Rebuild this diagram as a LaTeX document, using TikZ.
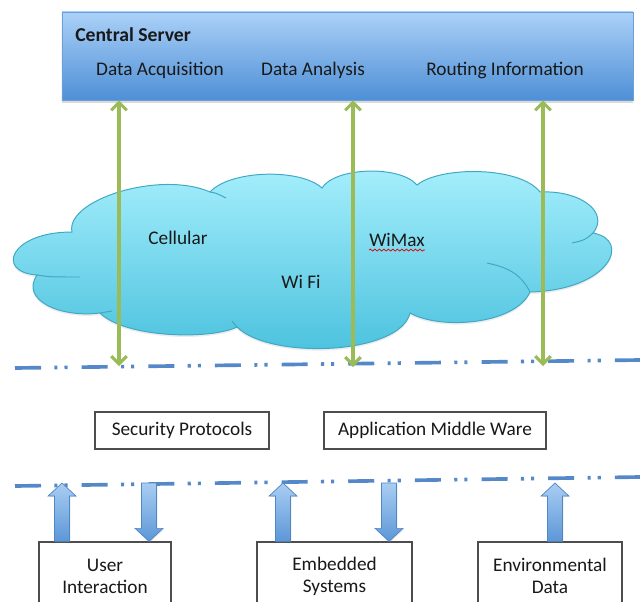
\documentclass[tikz,border=0pt]{standalone}
\usepackage{fontspec}
\setmainfont{Carlito}
\usepackage{xcolor}
\usetikzlibrary{arrows.meta,calc,shadows,decorations.pathmorphing}

\definecolor{srvtop}{HTML}{ABD1F8}
\definecolor{srvbot}{HTML}{4E8FD6}
\definecolor{srvline}{HTML}{6B9FD6}
\definecolor{cloudtop}{HTML}{A6EFFC}
\definecolor{cloudbot}{HTML}{48C0DD}
\definecolor{cloudline}{HTML}{3FA8C4}
\definecolor{linkgreen}{HTML}{9BBB59}
\definecolor{layerblue}{HTML}{5588C8}
\definecolor{fattop}{HTML}{A9CDF2}
\definecolor{fatbot}{HTML}{5C97D8}
\definecolor{fatline}{HTML}{4F86C6}
\definecolor{boxline}{HTML}{4D4D4D}

\begin{document}
\begin{tikzpicture}[x=0.025cm, y=-0.025cm,
  font=\fontsize{13.7}{15.6}\selectfont,
  lbl/.style={inner sep=0pt, text=black!90},
  box/.style={draw=boxline, line width=0.9pt, fill=white, inner sep=0pt, minimum height=0.925cm, text=black!90},
  unit/.style={draw=boxline, line width=0.9pt, fill=white, inner sep=0pt, minimum height=1.7cm, align=center, text=black!90},
  layer/.style={draw=layerblue, line width=2.6pt, dash pattern=on 18.5pt off 9.5pt on 2.2pt off 5pt on 2.2pt off 10pt},
  link/.style={draw=linkgreen, line width=2.2pt, {Straight Barb[length=5.5pt,width=11pt]}-{Straight Barb[length=5.5pt,width=11pt]}},
  fat/.style={draw=fatline, line width=0.5pt, top color=fattop, bottom color=fatbot,
    drop shadow={opacity=0.25, shadow xshift=0.6pt, shadow yshift=-0.8pt},
    to path={let \p1=(\tikztostart), \p2=(\tikztotarget), \p3=($(\tikztotarget)!9.25pt!(\tikztostart)$) in
      (\x1-5.3pt,\y1) -- (\x1-5.3pt,\y3) -- (\x1-9.9pt,\y3) -- (\x2,\y2) -- (\x1+9.9pt,\y3) -- (\x1+5.3pt,\y3) -- (\x1+5.3pt,\y1) -- cycle}},
]
  \clip (0,0) rectangle (640,601);

  \path[draw=cloudline, line width=0.7pt, top color=cloudtop, bottom color=cloudbot,
    drop shadow={opacity=0.15, shadow xshift=0pt, shadow yshift=-1.5pt}]
    (72,232) .. controls (65,200) and (160,170) .. (210,192)
    .. controls (230,170) and (300,168) .. (322,188)
    .. controls (335,167) and (400,165) .. (417,185)
    .. controls (440,166) and (520,166) .. (540,192)
    .. controls (580,190) and (610,212) .. (593,233)
    .. controls (632,240) and (610,290) .. (530,292)
    .. controls (515,325) and (440,330) .. (410,313)
    .. controls (400,355) and (270,360) .. (237,327)
    .. controls (210,340) and (125,338) .. (100,313)
    .. controls (60,318) and (20,300) .. (37,275)
    .. controls (-5,272) and (10,232) .. (72,232) -- cycle;
  \draw[cloudline, line width=0.7pt] (210,192) .. controls (216,193) .. (226,198);
  \draw[cloudline, line width=0.7pt] (593,233) .. controls (585,240) .. (572,243);
  \draw[cloudline, line width=0.7pt] (530,292) .. controls (520,272) and (505,267) .. (487,263);
  \draw[cloudline, line width=0.7pt] (37,275) .. controls (50,277) .. (80,277);
  \draw[cloudline, line width=0.7pt] (100,313) -- (112,311);
  \draw[cloudline, line width=0.7pt] (237,327) -- (232,321);

  \coordinate (l1w) at (15,368);
  \coordinate (l1e) at (640,360);
  \coordinate (l2w) at (15,486);
  \coordinate (l2e) at (640,477);
  \draw[layer] (l1w) -- (l1e);
  \draw[layer] (l2w) -- (l2e);

  \node[draw=srvline, line width=0.5pt, top color=srvtop, bottom color=srvbot,
    minimum width=14.275cm, minimum height=2.2cm, inner sep=0pt,
    drop shadow={opacity=0.3, shadow xshift=0pt, shadow yshift=-2pt}] (server) at (347.5,56) {};
  \node[lbl, font={\fontsize{14}{16}\selectfont\bfseries}, anchor=west] (title) at (75,35) {Central Server};
  \node[lbl] (acq) at (160,70) {Data Acquisition};
  \node[lbl] (ana) at (313,70) {Data Analysis};
  \node[lbl] (rout) at (505,70) {Routing Information};

  \coordinate (g1) at (119,366);
  \coordinate (g2) at (353,367);
  \coordinate (g3) at (543,366);
  \draw[link] (server.south -| g1) -- (g1);
  \draw[link] (server.south -| g2) -- (g2);
  \draw[link] (server.south -| g3) -- (g3);

  \node[lbl] (cell) at (178,238) {Cellular};
  \node[lbl] (wifi) at (301,282) {Wi Fi};
  \node[lbl] (wimax) at (397,240) {WiMax};
  \draw[red!85!black, line width=0.5pt, decorate, decoration={snake, amplitude=0.7pt, segment length=3.2pt}]
    ([yshift=-2.5pt]wimax.base west) -- ([yshift=-2.5pt]wimax.base east);

  \node[box, minimum width=4.35cm] (sec) at (182,430.5) {Security Protocols};
  \node[box, minimum width=5.55cm] (app) at (435,430.5) {Application Middle Ware};

  \node[unit, minimum width=3.3cm] (ui) at (105,576) {User\\Interaction};
  \node[unit, minimum width=3.875cm] (emb) at (334.5,576) {Embedded\\Systems};
  \node[unit, minimum width=3.6cm] (env) at (550,576) {Environmental\\Data};

  \coordinate (u1) at (62,483);
  \coordinate (d1) at (149,483);
  \coordinate (u2) at (283,483);
  \coordinate (d2) at (389,483);
  \coordinate (u3) at (555,483);
  \path[fat] (ui.north -| u1) to (u1);
  \path[fat] (d1) to (ui.north -| d1);
  \path[fat] (emb.north -| u2) to (u2);
  \path[fat] (d2) to (emb.north -| d2);
  \path[fat] (env.north -| u3) to (u3);
\end{tikzpicture}
\end{document}
